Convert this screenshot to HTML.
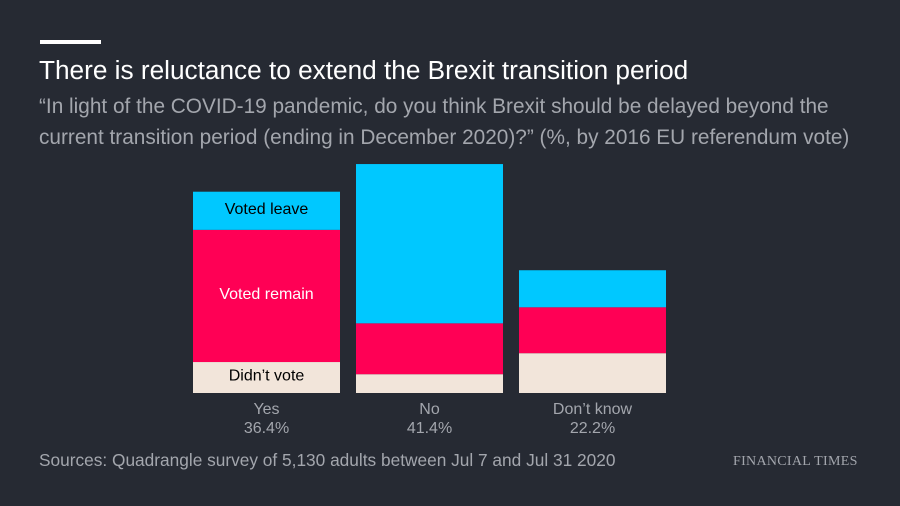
<!DOCTYPE html>
<html><head><meta charset="utf-8"><style>
body{margin:0;background:#262a33;}
#c{position:relative;width:900px;height:506px;background:#262a33;font-family:"Liberation Sans",sans-serif;overflow:hidden}
.t{position:absolute;white-space:nowrap}
</style></head><body>
<div id="c">
<div class="t" style="left:40px;top:40px;width:61px;height:4px;background:#fff"></div>
<div class="t" style="left:39px;top:55px;font-size:26.2px;color:#fff">There is reluctance to extend the Brexit transition period</div>
<div class="t" style="left:39px;top:91px;font-size:20.8px;line-height:31px;color:#a3a6ad">“In light of the COVID-19 pandemic, do you think Brexit should be delayed beyond the<br>current transition period (ending in December 2020)?” (%, by 2016 EU referendum vote)</div>
<svg id="plot" width="900" height="506" style="position:absolute;left:0;top:0"></svg>
<div class="t" style="left:39px;top:450px;font-size:17.3px;color:#a3a6ad">Sources: Quadrangle survey of 5,130 adults between Jul 7 and Jul 31 2020</div>
<div class="t" style="left:733px;top:454px;font-size:14px;color:#a3a6ad;font-family:'Liberation Serif',serif;letter-spacing:0.3px">FINANCIAL TIMES</div>
</div>
<script>
const categories=["Yes","No","Don’t know"];
const totals=["36.4%","41.4%","22.2%"];
const didntVote=[5.6,3.4,7.2];
const votedRemain=[23.9,9.2,8.3];
const votedLeave=[6.9,28.8,6.7];
const svg=document.getElementById('plot');
const NS='http://www.w3.org/2000/svg';
const base=393, pxPer=5.53, x0=193, bw=147, step=163;
const y=v=>base-v*pxPer;
const series=[[didntVote,'#f2e5da','didnt-vote'],[votedRemain,'#ff0055','voted-remain'],[votedLeave,'#00c8ff','voted-leave']];
categories.forEach((cat,i)=>{
  let acc=0;const x=x0+i*step;
  series.forEach(([arr,col,nm])=>{
    const r=document.createElementNS(NS,'rect');
    r.setAttribute('x',x);r.setAttribute('width',bw);
    r.setAttribute('y',y(acc+arr[i]));r.setAttribute('height',arr[i]*pxPer);
    r.setAttribute('fill',col);
    
    
    svg.appendChild(r);
    if(i===0){
      const t=document.createElementNS(NS,'text');
      t.setAttribute('x',x+bw/2);t.setAttribute('y',y(acc+arr[i]/2)+3);
      t.setAttribute('text-anchor','middle');t.setAttribute('font-size','16');
      t.setAttribute('font-family','Liberation Sans, sans-serif');
      t.setAttribute('fill',nm==='voted-remain'?'#fff':'#000');
      t.textContent=nm==='didnt-vote'?'Didn’t vote':nm==='voted-remain'?'Voted remain':'Voted leave';
      
      
      svg.appendChild(t);
    }
    acc+=arr[i];
  });
  [cat,totals[i]].forEach((s,k)=>{
    const t=document.createElementNS(NS,'text');
    t.setAttribute('x',x+bw/2);t.setAttribute('y',414+k*19);
    t.setAttribute('text-anchor','middle');t.setAttribute('font-size','16');
    t.setAttribute('font-family','Liberation Sans, sans-serif');t.setAttribute('fill','#a3a6ad');
    t.textContent=s;
    
    
    svg.appendChild(t);
  });
});
</script>
</body></html>
